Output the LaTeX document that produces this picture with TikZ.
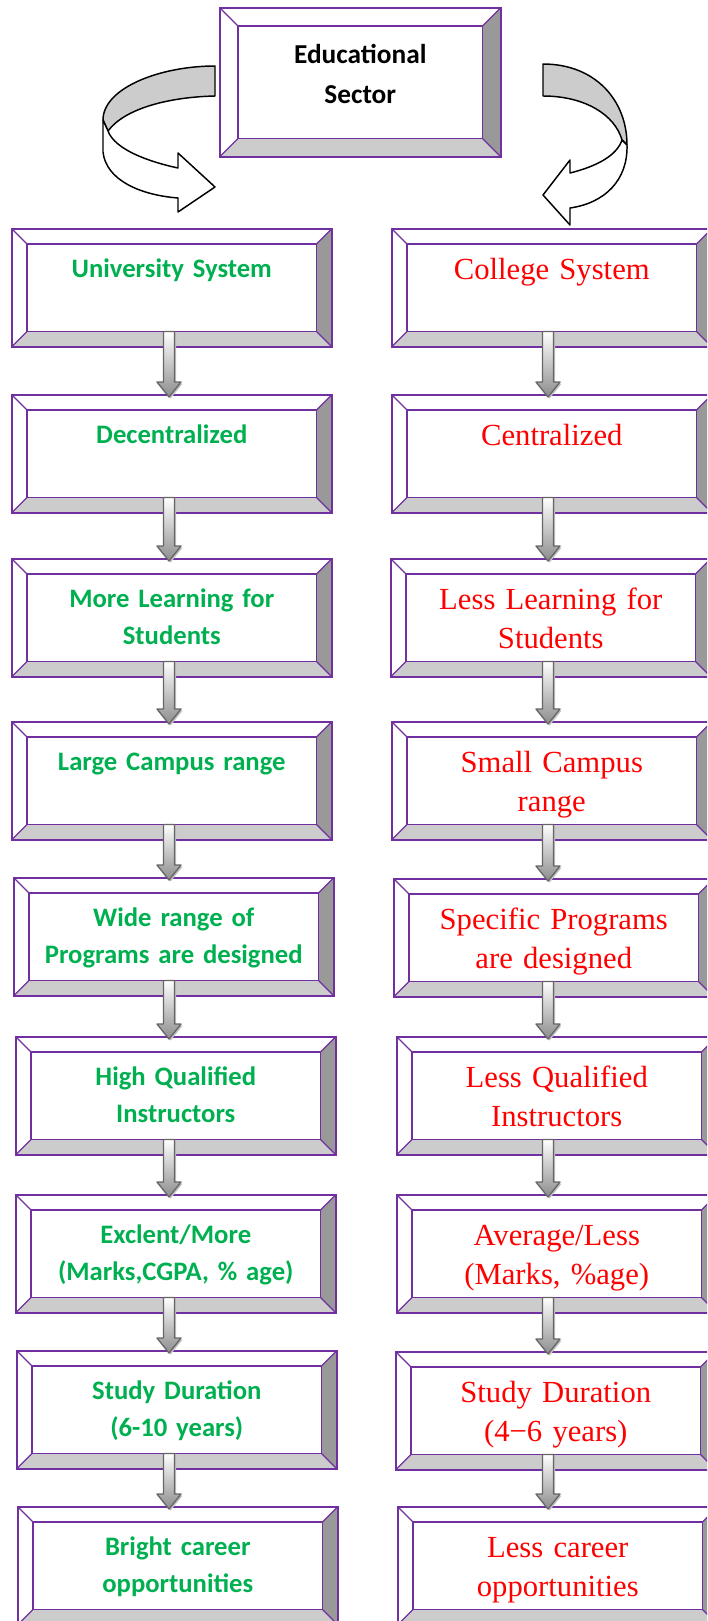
\documentclass[tikz,border=0pt]{standalone}
\usepackage{fontspec}
\newfontfamily\calib{Carlito}
\newfontfamily\tms{Liberation Serif}
\usetikzlibrary{calc}
\definecolor{boxline}{HTML}{7030A0}
\definecolor{grn}{HTML}{00B050}
\definecolor{bevR}{HTML}{999999}
\definecolor{bevB}{HTML}{CCCCCC}
\tikzset{
 boxframe/.style={rectangle, inner sep=0pt, minimum width=239.25pt, minimum height=87.75pt},
 gtxt/.style={font=\calib\bfseries\fontsize{20}{27.75}\selectfont, text=grn, text width=225pt, align=center, anchor=base, inner sep=0pt},
 rtxt/.style={font=\tms\fontsize{23}{29.25}\selectfont, text=red, text width=225pt, align=center, anchor=base, inner sep=0pt},
 btxt/.style={font=\calib\bfseries\fontsize{20.5}{30}\selectfont, text=black, text width=200pt, align=center, anchor=base, inner sep=0pt},
 flow/.style={draw=black!60, line width=1pt, line join=round, top color=white, bottom color=black!45,
   preaction={fill=black!25, transform canvas={shift={(1.2pt,-1.2pt)}}}},
 curl/.style={draw=black, line width=1.1pt, line join=round}
}
\newcommand\bevelbox[4][15]{%
 \node[boxframe, anchor=north west, #4] (#2) at (#3) {};
 \fill[bevR] (#2.north east) -- (#2.south east) -- ++(-#1,-#1) -- ($(#2.north east)+(-#1,#1)$) -- cycle;
 \fill[bevB] (#2.south west) -- (#2.south east) -- ++(-#1,-#1) -- ($(#2.south west)+(#1,-#1)$) -- cycle;
 \draw[boxline, line width=.9pt] (#2.north west) -- ++(#1,#1) (#2.north east) -- ++(-#1,#1)
   (#2.south west) -- ++(#1,-#1) (#2.south east) -- ++(-#1,-#1);
 \draw[boxline, line width=1.1pt] ($(#2.north west)+(#1,#1)$) rectangle ($(#2.south east)+(-#1,-#1)$);
 \draw[boxline, line width=1.5pt] (#2.north west) rectangle (#2.south east);
}
\newcommand\flowarrow[3]{%
 \path[flow] let \p1=($(#1.south -| #3)+(0,-15)$), \p2=($(#2.north -| #3)+(0,2)$) in
   (\x1-4.1pt,\y1) -- (\x1+4.1pt,\y1) -- (\x1+4.1pt,\y2+11.25pt) -- (\x1+9pt,\y2+11.25pt)
   -- (\x2,\y2) -- (\x1-9pt,\y2+11.25pt) -- (\x1-4.1pt,\y2+11.25pt) -- cycle;
}
\begin{document}
\begin{tikzpicture}[x=0.75pt, y=-0.75pt, line cap=round]
 \useasboundingbox (0,0) rectangle (707,1621);
 \clip (0,0) rectangle (707,1621);
 \coordinate (colL) at (169,0);
 \coordinate (colR) at (548,0);

 \bevelbox[18]{top}{220,8}{minimum width=210pt, minimum height=111pt}
 \node[btxt] (topt) at ($(top.north)+(0,55)$) {Educational\\Sector};

 \filldraw[curl, fill=bevB] (215,66) .. controls (160,66) and (103,88) .. (103,120) -- (108,131)
   .. controls (125,108) and (170,97) .. (215,96) -- cycle;
 \filldraw[curl, fill=white] (103,120) -- (103,152) .. controls (106,180) and (140,195) .. (178,198)
   -- (178,212) -- (215,187) -- (178,153) -- (178,168) .. controls (150,162) and (115,150) .. (108,131) -- cycle;
 \filldraw[curl, fill=bevB] (543,64) .. controls (595,64) and (627,100) .. (627,145) -- (622,140)
   .. controls (615,115) and (585,96) .. (543,96) -- cycle;
 \filldraw[curl, fill=white] (627,145) .. controls (628,180) and (605,203) .. (570,208)
   -- (570,225) -- (543,195) -- (570,160) -- (570,173) .. controls (598,166) and (617,155) .. (622,140) -- cycle;

 \foreach \n/\xx/\yy/\txt in {1/12/229/{University System}, 2/12/395/Decentralized,
   3/12/559/{More Learning for\\Students}, 4/12/722/{Large Campus range},
   5/14/878/{Wide range of\\Programs are designed}, 6/16/1037/{High Qualified\\Instructors},
   7/16/1195/{Exclent/More\\(Marks,CGPA, \% age)}, 8/17/1351/{Study Duration\\(6-10 years)},
   9/18/1507/{Bright career\\opportunities}}{
  \bevelbox{u\n}{\xx,\yy}{}
  \node[gtxt] (u\n t) at ($(u\n.north)+(0,48)$) {\txt};
 }
 \foreach \n/\xx/\yy/\txt in {1/392/229/{College System}, 2/392/395/Centralized,
   3/391/559/{Less Learning for\\Students}, 4/392/722/{Small Campus\\range},
   5/394/879/{Specific Programs\\are designed}, 6/397/1037/{Less Qualified\\Instructors},
   7/397/1195/{Average/Less\\(Marks, \%age)}, 8/396/1352/{Study Duration\\(4−6 years)},
   9/398/1507/{Less career\\opportunities}}{
  \bevelbox{c\n}{\xx,\yy}{}
  \node[rtxt] (c\n t) at ($(c\n.north)+(0,50)$) {\txt};
 }

 \foreach \i [count=\j from 2] in {1,...,8}{
  \flowarrow{u\i}{u\j}{colL}
  \flowarrow{c\i}{c\j}{colR}
 }
\end{tikzpicture}
\end{document}
